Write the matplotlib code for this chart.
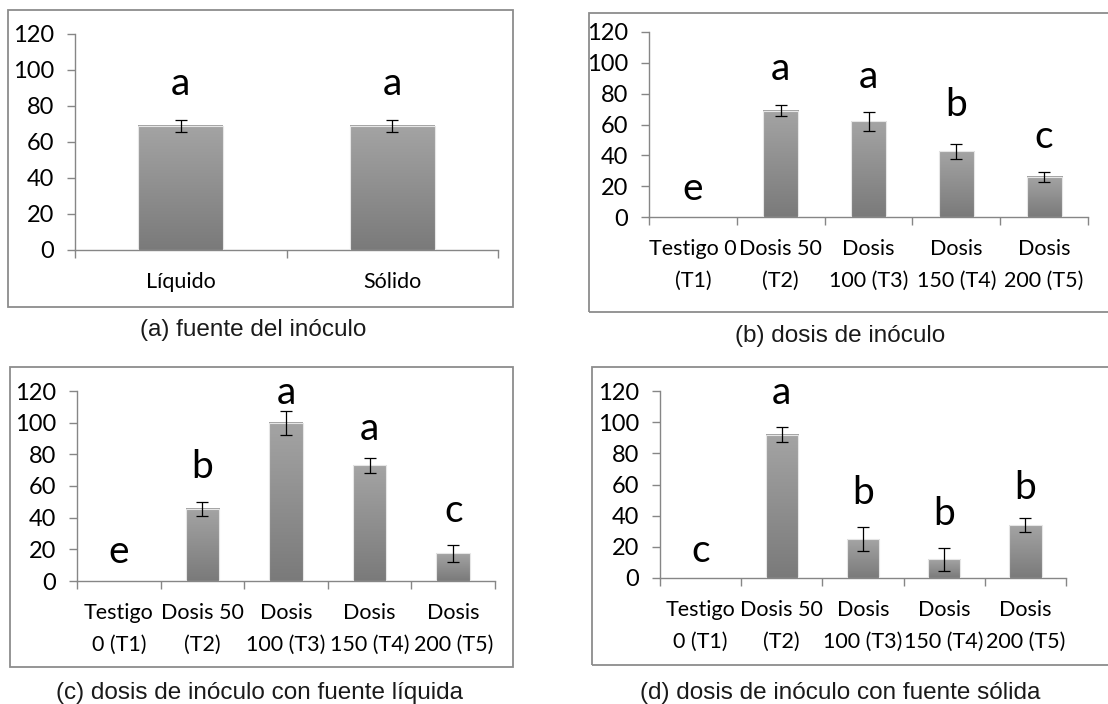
import numpy as np
import matplotlib.pyplot as plt
from matplotlib.patches import Rectangle
from matplotlib.colors import LinearSegmentedColormap

# data
cats_a = ["Líquido", "Sólido"]
vals_a = [69, 69]
err_a = [3.5, 3.5]
let_a = ["a", "a"]
let_y_a = [86, 86]

cats_b = ["Testigo 0\n(T1)", "Dosis 50\n(T2)", "Dosis\n100 (T3)", "Dosis\n150 (T4)", "Dosis\n200 (T5)"]
vals_b = [0, 69, 62, 42.5, 26]
err_b = [0, 3.5, 6, 5, 3.5]
let_b = ["e", "a", "a", "b", "c"]
let_y_b = [11, 89, 84, 65.5, 45]

cats_c = ["Testigo\n0 (T1)", "Dosis 50\n(T2)", "Dosis\n100 (T3)", "Dosis\n150 (T4)", "Dosis\n200 (T5)"]
vals_c = [0, 45.5, 100, 73, 17.5]
err_c = [0, 4.5, 7.5, 5, 5.5]
let_c = ["e", "b", "a", "a", "c"]
let_y_c = [11.5, 65, 112, 89, 37]

cats_d = ["Testigo\n0 (T1)", "Dosis 50\n(T2)", "Dosis\n100 (T3)", "Dosis\n150 (T4)", "Dosis\n200 (T5)"]
vals_d = [0, 92, 25, 12, 34]
err_d = [0, 5, 7.5, 7.5, 4.5]
let_d = ["c", "a", "b", "b", "b"]
let_y_d = [10.5, 111.5, 47.5, 34, 51]

captions = ["(a) fuente del inóculo", "(b) dosis de inóculo",
            "(c) dosis de inóculo con fuente líquida", "(d) dosis de inóculo con fuente sólida"]

W, H = 1108, 704
fig = plt.figure(figsize=(W / 100, H / 100), dpi=100)

FONT = "Lato"
AXC = "#868686"
cmap = LinearSegmentedColormap.from_list("g", ["#7a7a7a", "#a4a4a4"])
grad = np.linspace(0, 1, 256).reshape(-1, 1)


def px_rect(x0, y0, x1, y1):
    # pixel box (top-left origin) -> figure fraction
    return [x0 / W, 1 - y1 / H, (x1 - x0) / W, (y1 - y0) / H]


def panel(axpx, boxpx, cats, vals, errs, letters, let_y, cap, cap_xy):
    b = boxpx
    fig.patches.append(Rectangle((b[0] / W, 1 - b[3] / H), (b[2] - b[0]) / W, (b[3] - b[1]) / H,
                                 transform=fig.transFigure, fill=False,
                                 edgecolor="#8c8c8c", lw=1.3))
    ax = fig.add_axes(px_rect(*axpx))
    n = len(cats)
    x = np.arange(n)
    bars = ax.bar(x, vals, width=0.4, facecolor="none", edgecolor="#e6e6e6", lw=0.8, zorder=3)
    for r in bars:
        h = r.get_height()
        if h <= 0:
            continue
        x0 = r.get_x()
        ax.imshow(grad, extent=[x0, x0 + r.get_width(), 0, h], origin="lower",
                  cmap=cmap, aspect="auto", zorder=2)
    ex = [i for i in range(n) if vals[i] > 0]
    ax.errorbar([x[i] for i in ex], [vals[i] for i in ex], yerr=[errs[i] for i in ex],
                fmt="none", ecolor="black", elinewidth=0.9, capsize=4, capthick=0.9, zorder=4)
    for i in range(n):
        ax.text(x[i], let_y[i], letters[i], ha="center", va="baseline",
                fontsize=28, family=FONT, color="black", zorder=5)
    ax.set_xlim(-0.5, n - 0.5)
    ax.set_ylim(0, 120)
    ax.set_yticks(range(0, 121, 20))
    ax.set_xticks(x)
    ax.set_xticklabels(cats, family=FONT, fontsize=15.5, linespacing=1.75)
    ax.set_xticks(np.arange(-0.5, n, 1.0), minor=True)
    ax.tick_params(axis="x", which="major", length=0, pad=15.5)
    ax.tick_params(axis="x", which="minor", length=6, color=AXC, width=1)
    ax.tick_params(axis="y", length=6, color=AXC, width=1, pad=9, labelsize=17)
    for lab in ax.get_yticklabels():
        lab.set_family(FONT)
    for s in ["top", "right"]:
        ax.spines[s].set_visible(False)
    for s in ["left", "bottom"]:
        ax.spines[s].set_color(AXC)
        ax.spines[s].set_linewidth(1)
    ax.patch.set_alpha(0)
    fig.text(cap_xy[0] / W, 1 - cap_xy[1] / H, cap, ha="center", va="center",
             fontsize=17.5, family="Liberation Sans", color="#1a1a1a")
    return ax


panel((75, 34, 498, 250), (8, 10, 513, 307), cats_a, vals_a, err_a, let_a, let_y_a,
      captions[0], (253, 330))
panel((649, 32, 1088, 217), (589, 13, 1115, 312), cats_b, vals_b, err_b, let_b, let_y_b,
      captions[1], (840, 336))
panel((77, 391, 495, 581), (10, 367, 513, 667), cats_c, vals_c, err_c, let_c, let_y_c,
      captions[2], (260, 693))
panel((660, 391, 1066, 578), (592, 367, 1115, 665), cats_d, vals_d, err_d, let_d, let_y_d,
      captions[3], (840, 693))

plt.savefig("out.png", dpi=100)
